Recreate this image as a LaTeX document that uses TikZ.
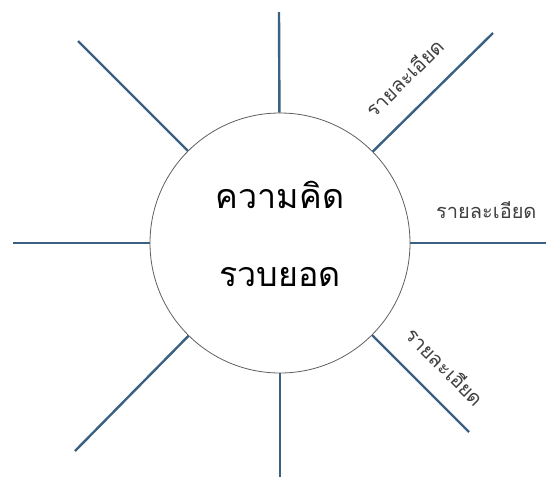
\documentclass[tikz,border=0pt]{standalone}
\usepackage{fontspec}
\newfontfamily\thaifont[Script=Thai]{Loma}
\usepackage{tikz}
\usetikzlibrary{calc}
\definecolor{spoke}{RGB}{58,96,130}
\definecolor{rim}{RGB}{95,95,95}
\tikzset{
  idea/.style={circle, draw=rim, line width=0.8pt, fill=white,
               minimum size=260pt, inner sep=0pt},
  ideatext/.style={align=center, inner sep=0pt,
                   font=\thaifont\fontsize{34}{40}\selectfont},
  spk/.style={draw=spoke, line width=2.4pt},
  detail/.style={font=\thaifont\fontsize{20}{24}\selectfont,
                 text=black!75, inner sep=0pt, sloped},
}
\begin{document}
\begin{tikzpicture}[x=1pt,y=-1pt]
  \useasboundingbox (0,0) rectangle (546,483);
  % central concept
  \node[idea] (cc) at (280,243) {};
  \node[ideatext] (cctext) at (280,234) {ความคิด\\[38pt]รวบยอด};
  % free ends of the spokes
  \coordinate (eN)  at (279,12);
  \coordinate (eNE) at (493,33);
  \coordinate (eE)  at (546,243);
  \coordinate (eSE) at (469,432);
  \coordinate (eS)  at (280,477);
  \coordinate (eSW) at (75,451);
  \coordinate (eW)  at (13,243);
  \coordinate (eNW) at (78,41);
  % spokes
  \foreach \e in {eN,eS,eSW,eW,eNW}
    \draw[spk] (cc) -- (\e);
  % spokes with detail labels
  \draw[spk] (cc) -- (eNE) node[detail, pos=0.44, above=21pt] {รายละเอียด};
  \draw[spk] (cc) -- (eE)  node[detail, pos=0.56, above=23pt] {รายละเอียด};
  \draw[spk] (cc) -- (eSE) node[detail, pos=0.54, above=20pt] {รายละเอียด};
\end{tikzpicture}
\end{document}
